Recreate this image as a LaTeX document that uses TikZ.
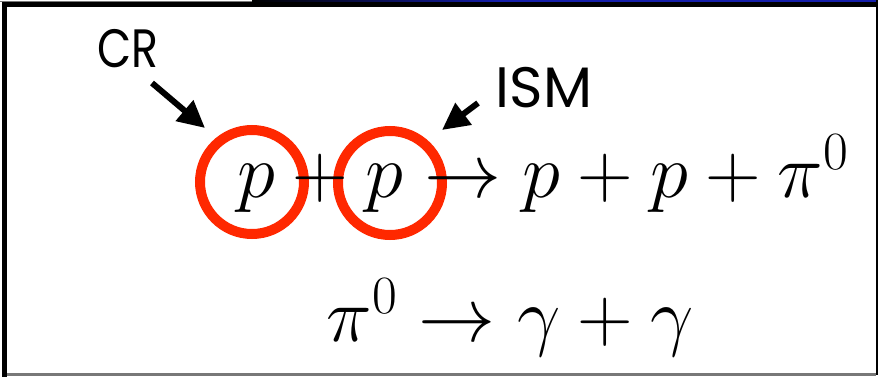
\RequirePackage{fix-cm}
\documentclass[tikz,border=0pt]{standalone}
\usepackage{fontspec}
\newfontfamily\comicfont{Poppins}
\usetikzlibrary{arrows.meta}
\definecolor{ringred}{RGB}{255,40,0}
\definecolor{barblue}{RGB}{20,30,170}
\definecolor{edgegray}{RGB}{120,120,120}
\tikzset{
  ring/.style={circle, draw=ringred, line width=10pt, minimum size=104pt, inner sep=0pt},
  pointer/.style={line width=6pt, -{Triangle[length=27pt,width=26pt]}},
  handlabel/.style={inner sep=0pt, font=\comicfont\fontsize{54}{60}\selectfont},
  eqn/.style={inner sep=0pt, anchor=base, font=\fontsize{77}{84}\selectfont}
}
\begin{document}
\begin{tikzpicture}[x=1pt,y=-1pt]
\useasboundingbox (0,0) rectangle (878,377);
\fill[white] (0,0) rectangle (878,377);
% frame
\fill[edgegray] (0,1) rectangle (252,2);
\fill[black] (252,0) rectangle (878,7);
\shade[left color=black, right color=barblue] (252,0) rectangle (500,2.5);
\fill[barblue] (500,0) rectangle (876,2.5);
\fill[black] (2,2) rectangle (878,7);
\fill[black] (2,2) rectangle (7,377);
\fill[black] (876,0) rectangle (878,375);
\fill[edgegray] (7,373) rectangle (876,375.5);
% rings
\node[ring] (c1) at (252,182) {};
\node[ring] (c2) at (390,183) {};
% equations
\node[eqn] (eq1) at (543,197) {$p+p\to p+p+\pi^0$};
\node[eqn] (eq2) at (510,341) {$\pi^0\to\gamma+\gamma$};
% labels
\node[handlabel, xscale=0.82] (cr) at (128,49) {CR};
\node[handlabel, font=\comicfont\fontsize{57}{62}\selectfont] (ism) at (544,88) {ISM};
\coordinate (crtail) at (152,83);
\coordinate (crtip) at (205,128);
\coordinate (ismtail) at (478,103);
\coordinate (ismtip) at (442,130);
\draw[pointer] (crtail) -- (crtip);
\draw[pointer] (ismtail) -- (ismtip);
\end{tikzpicture}
\end{document}
